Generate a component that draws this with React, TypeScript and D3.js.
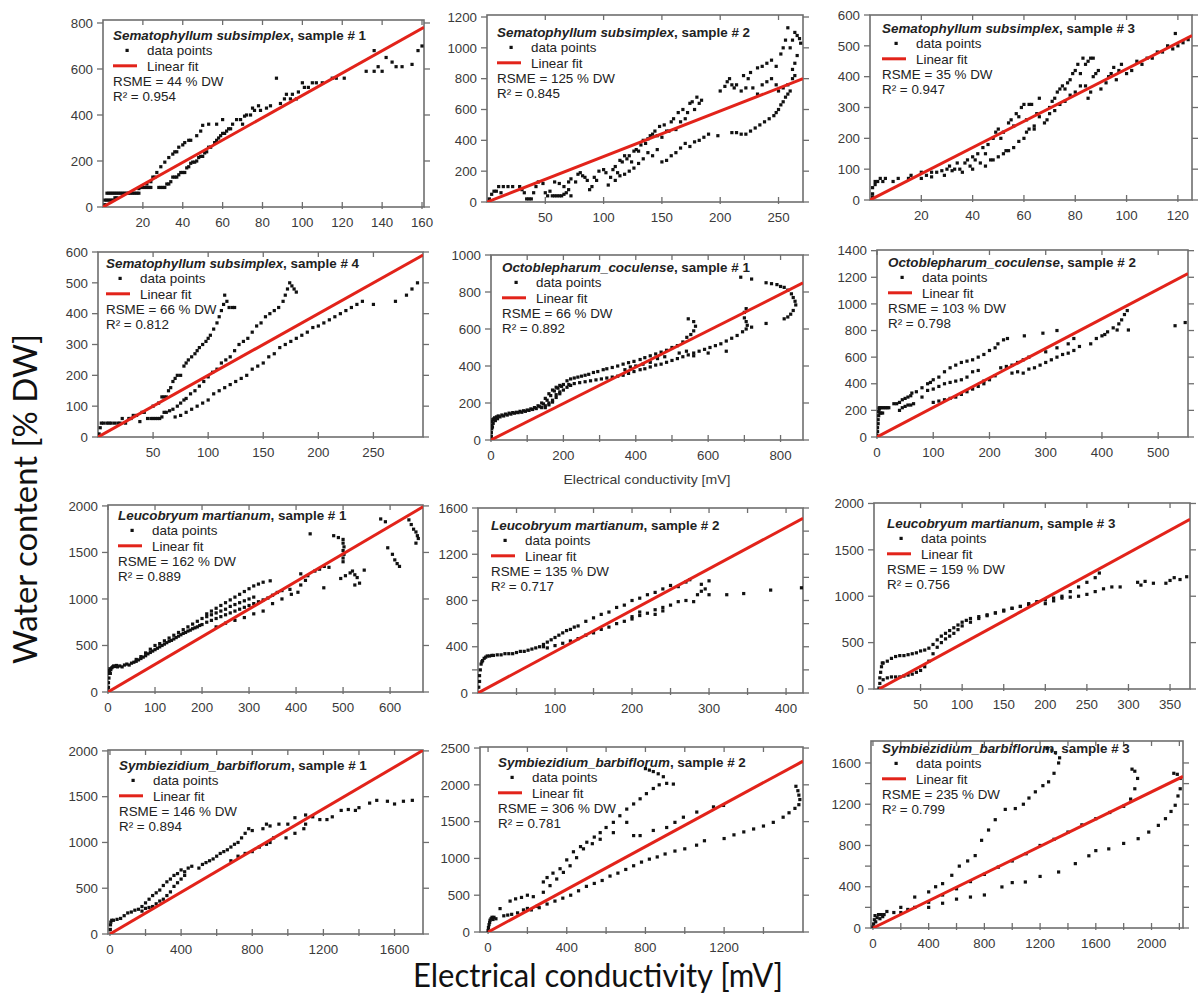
import React from "react";
import * as d3 from "d3";

type Pt = [number, number];

// ---------- DATA ----------
const speciesNames = [
  "Sematophyllum subsimplex", "Sematophyllum subsimplex", "Sematophyllum subsimplex",
  "Sematophyllum subsimplex", "Octoblepharum_coculense", "Octoblepharum_coculense",
  "Leucobryum martianum", "Leucobryum martianum", "Leucobryum martianum",
  "Symbiezidium_barbiflorum", "Symbiezidium_barbiflorum", "Symbiezidium_barbiflorum",
];
const sampleNumbers = [1, 2, 3, 4, 1, 2, 1, 2, 3, 1, 2, 3];
const rsmeValues = [44, 125, 35, 66, 66, 103, 162, 135, 159, 146, 306, 235];
const r2Values = ["0.954", "0.845", "0.947", "0.812", "0.892", "0.798", "0.889", "0.717", "0.756", "0.894", "0.781", "0.799"];
const fitSlopes = [4.85, 2.95, 4.25, 2.0, 0.985, 2.22, 2.97, 3.58, 4.89, 1.14, 1.45, 0.66];
const fitXEnd = [161, 271, 125.5, 295, 862, 553, 670, 422, 374, 1760, 1601, 2226];

const xDomains: Pt[] = [[0, 161], [0, 271], [0, 125.5], [0, 295], [0, 862], [0, 553], [0, 670], [0, 422], [-6, 374], [-11, 1760], [-41, 1601], [-14, 2226]];
const yDomains: Pt[] = [[0, 813], [0, 1213], [0, 600], [0, 600], [0, 1000], [0, 1405], [0, 2010], [0, 1600], [0, 2005], [0, 2010], [0, 2514], [0, 1813]];

const xTickLabels = [
  [20, 40, 60, 80, 100, 120, 140, 160], [50, 100, 150, 200, 250], [20, 40, 60, 80, 100, 120],
  [50, 100, 150, 200, 250], [0, 200, 400, 600, 800], [0, 100, 200, 300, 400, 500],
  [0, 100, 200, 300, 400, 500, 600], [100, 200, 300, 400], [50, 100, 150, 200, 250, 300, 350],
  [0, 400, 800, 1200, 1600], [0, 400, 800, 1200], [0, 400, 800, 1200, 1600, 2000],
];
const xMinorTicks = [
  [], [], [], [], [100, 300, 500, 700], [], [], [50, 150, 250, 350], [],
  [200, 600, 1000, 1400], [200, 600, 1000, 1400], [200, 600, 1000, 1400, 1800, 2200],
];
const yTickLabels = [
  [0, 200, 400, 600, 800], [0, 200, 400, 600, 800, 1000, 1200], [0, 100, 200, 300, 400, 500, 600],
  [0, 100, 200, 300, 400, 500, 600], [0, 200, 400, 600, 800, 1000], [0, 200, 400, 600, 800, 1000, 1200, 1400],
  [0, 500, 1000, 1500, 2000], [0, 400, 800, 1200, 1600], [0, 500, 1000, 1500, 2000],
  [0, 500, 1000, 1500, 2000], [0, 500, 1000, 1500, 2000, 2500], [0, 400, 800, 1200, 1600],
];
const yMinorTicks = [[], [], [], [], [], [], [], [200, 600, 1000, 1400], [], [], [], [200, 600, 1000, 1400]];

const pointsS1: Pt[] = [
  [1, 10], [1, 30], [2, 30], [3, 30], [4, 30], [5, 30], [2, 60], [3, 60], [4, 60], [5, 60], [6, 60], [7, 60], [8, 60], [9, 60],
  [10, 60], [11, 60], [12, 60], [13, 60], [14, 60], [15, 60], [16, 60], [17, 60], [18, 60], [6, 40], [7, 40],
  [18, 80], [19, 85], [20, 85], [21, 85], [22, 85], [23, 85], [24, 85], [22, 100], [24, 110], [25, 130], [26, 130], [27, 150],
  [28, 85], [29, 85], [30, 85], [31, 85], [32, 100], [33, 100], [29, 175], [31, 195], [33, 215], [35, 230], [36, 240], [37, 240],
  [38, 260], [40, 270], [41, 280], [43, 290], [44, 290], [47, 310], [49, 330], [50, 355], [53, 360], [34, 110], [35, 130],
  [36, 130], [37, 130], [38, 140], [39, 150], [40, 150], [41, 150], [42, 170], [43, 175], [44, 190], [45, 195], [46, 195],
  [47, 200], [48, 215], [49, 220], [50, 220], [51, 235], [52, 240], [53, 260], [54, 260], [56, 280], [57, 290], [58, 300],
  [59, 310], [60, 320], [61, 320], [62, 330], [63, 340], [64, 340], [57, 360], [60, 380], [65, 360], [67, 380], [69, 380],
  [70, 360], [71, 395], [72, 400], [74, 400], [75, 430], [76, 420], [78, 440], [79, 420], [82, 430], [84, 440], [87, 560],
  [89, 450], [91, 470], [92, 490], [94, 470], [95, 490], [97, 470], [98, 500], [100, 540], [101, 520], [103, 520], [105, 540],
  [107, 540], [110, 540], [115, 560], [117, 560], [121, 560], [132, 590], [136, 590], [136, 680], [138, 610], [140, 590],
  [142, 650], [145, 630], [147, 610], [150, 610], [155, 620], [158, 680], [160, 700],
];

const pointsS2: Pt[] = [
  [2, 20], [4, 50], [6, 70], [8, 70], [10, 100], [12, 60], [14, 100], [18, 100], [22, 100], [28, 100], [30, 80], [32, 60],
  [34, 20], [36, 20], [38, 20], [40, 60], [42, 100], [44, 130], [48, 120], [50, 60], [52, 40], [54, 70], [56, 40], [58, 40],
  [60, 40], [62, 40], [64, 40], [66, 50], [68, 60], [70, 80], [72, 40], [58, 130], [62, 120], [66, 100], [70, 130], [72, 150],
  [76, 130], [78, 180], [80, 190], [82, 170], [84, 160], [86, 140], [88, 80], [90, 100], [92, 160], [94, 140], [96, 200],
  [100, 210], [102, 190], [104, 110], [106, 160], [108, 210], [110, 230], [112, 190], [114, 270], [116, 260], [118, 300],
  [120, 280], [122, 300], [124, 260], [126, 330], [128, 340], [130, 330], [132, 370], [134, 400], [136, 380], [138, 410],
  [140, 430], [142, 440], [144, 460], [146, 430], [148, 490], [150, 420], [152, 500], [154, 460], [156, 460], [158, 520],
  [160, 540], [162, 470], [164, 580], [166, 520], [168, 600], [170, 540], [172, 580], [174, 640], [176, 650], [178, 600],
  [180, 680], [182, 640], [184, 660], [110, 140], [114, 170], [118, 180], [122, 200], [126, 220], [130, 250], [134, 280],
  [138, 320], [142, 300], [146, 340], [150, 260], [154, 270], [158, 300], [162, 320], [166, 350], [170, 380], [174, 360],
  [178, 390], [182, 400], [186, 420], [190, 440], [198, 430], [200, 720], [204, 750], [208, 800], [210, 760], [214, 760],
  [220, 820], [224, 800], [226, 840], [232, 870], [236, 880], [240, 900], [244, 920], [248, 880], [252, 960], [254, 1000],
  [256, 1050], [258, 1130], [260, 1000], [262, 1050], [264, 1100], [266, 1080], [268, 1060], [269, 1030], [206, 780],
  [212, 740], [218, 720], [222, 740], [228, 740], [232, 700], [236, 760], [240, 780], [244, 800], [248, 760], [250, 720],
  [254, 740], [258, 760], [262, 860], [264, 900], [266, 950], [210, 450], [214, 450], [218, 440], [222, 440], [226, 460],
  [230, 480], [234, 500], [238, 520], [242, 540], [246, 560], [248, 580], [250, 600], [252, 630], [254, 650], [256, 680],
  [258, 700], [260, 720], [262, 800], [264, 820],
];

const pointsS3: Pt[] = [
  [1, 10], [1, 20], [1, 40], [2, 50], [2, 60], [3, 60], [4, 70], [5, 60], [6, 70], [9, 60], [11, 70], [15, 70], [16, 80],
  [20, 70], [20, 90], [22, 80], [24, 90], [24, 75], [26, 90], [28, 95], [29, 80], [30, 100], [31, 110], [32, 95], [33, 100],
  [34, 120], [35, 100], [36, 90], [37, 120], [38, 130], [39, 110], [40, 140], [40, 100], [41, 130], [42, 150], [43, 120],
  [44, 170], [45, 150], [46, 180], [47, 130], [48, 200], [49, 220], [50, 230], [51, 200], [52, 220], [53, 160], [54, 250],
  [55, 260], [56, 240], [57, 280], [58, 270], [59, 300], [60, 310], [61, 260], [62, 310], [63, 310], [64, 230], [65, 280],
  [66, 330], [45, 110], [48, 130], [50, 140], [52, 150], [54, 160], [56, 170], [58, 190], [60, 200], [61, 220], [62, 230],
  [64, 240], [66, 270], [68, 250], [69, 260], [70, 300], [71, 320], [72, 330], [73, 350], [74, 360], [75, 370], [76, 360],
  [77, 380], [78, 390], [79, 410], [80, 420], [81, 440], [82, 410], [83, 460], [84, 440], [85, 450], [86, 460], [87, 460],
  [70, 280], [72, 290], [74, 310], [76, 320], [78, 340], [80, 350], [82, 370], [84, 370], [85, 330], [86, 350], [87, 400],
  [88, 410], [89, 420], [90, 360], [92, 380], [93, 400], [94, 410], [95, 430], [96, 390], [97, 420], [98, 440], [100, 410],
  [102, 420], [104, 450], [106, 440], [108, 460], [110, 460], [112, 480], [114, 480], [116, 500], [118, 490], [119, 540],
  [120, 500], [122, 510], [124, 520],
];

const pointsS4: Pt[] = [
  [1, 10], [2, 30], [3, 45], [5, 45], [8, 45], [10, 45], [12, 45], [15, 45], [18, 45], [20, 45], [22, 60], [25, 45], [28, 60],
  [30, 60], [32, 70], [35, 70], [38, 50], [40, 80], [42, 80], [45, 60], [48, 60], [50, 60], [52, 60], [54, 60], [56, 60],
  [58, 65], [60, 80], [50, 100], [55, 110], [58, 130], [60, 130], [62, 130], [64, 150], [66, 160], [68, 180], [70, 190],
  [72, 200], [75, 200], [78, 230], [80, 240], [82, 250], [85, 260], [88, 270], [90, 280], [92, 290], [95, 300], [98, 310],
  [100, 320], [102, 330], [105, 350], [108, 370], [110, 390], [112, 410], [114, 430], [115, 460], [117, 440], [119, 420],
  [122, 420], [124, 420], [62, 80], [65, 85], [68, 90], [72, 100], [75, 110], [78, 120], [80, 125], [84, 140], [88, 150],
  [92, 165], [96, 180], [100, 195], [104, 210], [108, 220], [112, 240], [116, 250], [120, 260], [124, 280], [128, 300],
  [132, 310], [136, 320], [140, 340], [144, 360], [148, 370], [152, 390], [156, 400], [160, 410], [164, 420], [168, 440],
  [170, 460], [172, 480], [174, 500], [176, 490], [178, 480], [180, 470], [70, 65], [75, 70], [80, 80], [85, 90], [90, 100],
  [95, 110], [100, 120], [105, 140], [110, 150], [115, 160], [120, 170], [125, 180], [130, 190], [135, 200], [140, 220],
  [145, 230], [150, 240], [155, 260], [160, 270], [165, 290], [170, 300], [175, 310], [180, 320], [185, 330], [190, 340],
  [195, 355], [200, 360], [205, 370], [210, 380], [215, 390], [220, 400], [225, 410], [230, 420], [235, 430], [240, 440],
  [250, 430], [270, 440], [280, 460], [285, 480], [290, 500],
];

const pointsO1: Pt[] = [
  [0, 5], [1, 20], [1, 40], [2, 60], [2, 80], [3, 100], [4, 70], [5, 110], [6, 90], [8, 115], [10, 120], [12, 105], [15, 125],
  [18, 115], [20, 130], [25, 125], [30, 135], [35, 130], [40, 140], [45, 135], [50, 145], [55, 140], [60, 148], [65, 145],
  [70, 150], [75, 148], [80, 155], [85, 150], [90, 158], [95, 155], [100, 162], [105, 160], [110, 168], [115, 165], [120, 175],
  [125, 170], [130, 185], [135, 180], [140, 200], [145, 195], [150, 225], [155, 215], [160, 250], [165, 240], [170, 270],
  [175, 265], [180, 285], [185, 280], [190, 295], [195, 290], [200, 300], [140, 175], [150, 185], [160, 200], [170, 215],
  [180, 230], [190, 250], [200, 270], [210, 285], [220, 295], [150, 175], [160, 190], [170, 205], [180, 245], [190, 260],
  [210, 320], [220, 330], [230, 335], [240, 340], [250, 345], [260, 350], [270, 355], [283, 365], [295, 370], [310, 380],
  [320, 385], [335, 392], [350, 400], [365, 410], [380, 418], [395, 425], [412, 435], [425, 445], [440, 455], [455, 465],
  [470, 475], [485, 485], [500, 500], [515, 510], [530, 530], [541, 555], [552, 570], [560, 590], [565, 615], [560, 640],
  [545, 655], [215, 300], [230, 305], [245, 310], [260, 315], [275, 320], [290, 325], [305, 330], [320, 335], [335, 340],
  [350, 345], [365, 350], [380, 360], [395, 370], [412, 380], [425, 385], [440, 395], [455, 405], [470, 410], [485, 420],
  [500, 430], [515, 440], [530, 450], [545, 460], [560, 470], [575, 480], [590, 490], [605, 500], [620, 510], [635, 520],
  [650, 535], [665, 550], [680, 565], [695, 585], [705, 600], [708, 620], [705, 640], [700, 660], [700, 690], [705, 710],
  [370, 380], [385, 395], [400, 400], [420, 410], [440, 420], [460, 440], [480, 450], [520, 470], [540, 480], [560, 455],
  [600, 470], [650, 480], [720, 610], [760, 630], [690, 880], [720, 870], [760, 850], [775, 845], [790, 840], [800, 830],
  [810, 825], [820, 810], [830, 790], [835, 770], [840, 750], [842, 730], [835, 700], [828, 680], [820, 665], [810, 655],
];

const pointsO2: Pt[] = [
  [0, 10], [1, 40], [1, 70], [2, 100], [2, 130], [3, 160], [3, 190], [4, 210], [4, 220], [5, 180], [7, 180], [10, 180],
  [6, 220], [9, 220], [12, 220], [15, 220], [18, 220], [21, 220], [30, 250], [35, 250], [40, 260], [45, 280], [50, 290],
  [55, 300], [60, 310], [62, 330], [40, 200], [45, 220], [50, 230], [55, 240], [60, 240], [65, 250], [70, 340], [80, 370],
  [90, 400], [95, 410], [100, 430], [110, 450], [120, 490], [130, 520], [140, 540], [150, 560], [160, 570], [170, 580],
  [180, 600], [190, 620], [200, 650], [210, 670], [215, 700], [225, 730], [232, 740], [262, 760], [295, 780], [320, 800],
  [80, 300], [90, 350], [100, 360], [110, 380], [120, 400], [130, 410], [140, 420], [150, 430], [160, 450], [170, 490],
  [180, 500], [190, 420], [200, 430], [210, 460], [220, 520], [230, 530], [240, 540], [250, 560], [260, 580], [270, 600],
  [100, 260], [110, 270], [120, 280], [130, 290], [140, 300], [150, 320], [160, 340], [170, 360], [180, 380], [190, 400],
  [240, 480], [250, 490], [260, 480], [270, 510], [280, 520], [290, 540], [300, 560], [310, 580], [320, 600], [330, 620],
  [340, 630], [350, 650], [360, 680], [300, 640], [320, 670], [340, 700], [350, 740], [380, 700], [390, 740], [400, 760],
  [405, 770], [410, 790], [420, 820], [430, 850], [435, 880], [440, 920], [445, 950], [427, 804], [447, 804], [530, 836],
  [548, 860],
];

const pointsL1: Pt[] = [
  [0, 10], [1, 50], [1, 100], [2, 150], [2, 200], [3, 230], [4, 250], [5, 200], [6, 240], [8, 260], [10, 270], [12, 280],
  [15, 275], [18, 285], [20, 270], [25, 280], [30, 270], [35, 290], [40, 300], [45, 290], [50, 310], [55, 320], [60, 330],
  [65, 345], [70, 360], [75, 375], [80, 390], [85, 410], [90, 425], [95, 440], [100, 455], [105, 470], [110, 485], [115, 500],
  [120, 515], [125, 530], [130, 545], [135, 555], [140, 570], [145, 585], [150, 600], [155, 615], [160, 630], [165, 640],
  [170, 655], [175, 665], [180, 680], [185, 690], [190, 700], [195, 715], [200, 725], [60, 350], [70, 380], [80, 420],
  [90, 460], [100, 500], [110, 520], [120, 550], [130, 580], [140, 610], [150, 640], [160, 670], [170, 700], [180, 730],
  [190, 760], [200, 790], [210, 810], [220, 830], [230, 850], [240, 870], [250, 890], [260, 920], [270, 940], [280, 960],
  [290, 980], [300, 1000], [310, 1020], [210, 840], [220, 870], [230, 900], [240, 930], [250, 960], [260, 990], [270, 1020],
  [280, 1050], [290, 1080], [300, 1110], [310, 1140], [320, 1160], [330, 1180], [345, 1195], [210, 750], [220, 770],
  [230, 790], [240, 810], [250, 830], [260, 850], [270, 870], [280, 890], [290, 910], [300, 930], [310, 950], [320, 970],
  [330, 990], [340, 1010], [350, 1040], [360, 1070], [370, 1090], [387, 1103], [230, 700], [250, 740], [270, 770], [290, 800],
  [310, 840], [330, 870], [350, 950], [370, 1000], [390, 1050], [404, 1072], [410, 1150], [420, 1200], [410, 1270],
  [425, 1250], [440, 1300], [450, 1320], [460, 1350], [470, 1340], [459, 1120], [430, 1700], [480, 1680], [490, 1660],
  [500, 1640], [500, 1600], [502, 1560], [500, 1520], [502, 1480], [500, 1440], [500, 1400], [495, 1220], [505, 1250],
  [515, 1280], [520, 1300], [525, 1260], [530, 1230], [525, 1150], [535, 1170], [545, 1310], [580, 1860], [590, 1830],
  [595, 1550], [605, 1480], [610, 1420], [615, 1380], [620, 1350], [640, 1850], [645, 1800], [650, 1750], [655, 1720],
  [658, 1680], [660, 1650], [655, 1600],
];

const pointsL2: Pt[] = [
  [1, 0], [1, 50], [2, 100], [2, 150], [3, 200], [4, 250], [5, 270], [6, 280], [8, 300], [10, 310], [12, 320], [15, 320],
  [18, 325], [20, 325], [25, 330], [30, 330], [35, 340], [40, 340], [45, 340], [50, 350], [55, 360], [60, 360], [65, 370],
  [70, 380], [75, 390], [80, 400], [85, 400], [85, 420], [90, 440], [95, 460], [100, 480], [105, 500], [110, 520], [115, 540],
  [120, 550], [125, 570], [130, 580], [140, 620], [150, 650], [160, 680], [170, 700], [180, 740], [190, 760], [200, 800],
  [210, 820], [220, 850], [230, 870], [240, 900], [250, 930], [260, 920], [270, 960], [275, 980], [90, 390], [100, 410],
  [110, 430], [120, 450], [130, 470], [140, 500], [150, 520], [160, 550], [170, 570], [180, 600], [190, 620], [200, 640],
  [210, 670], [220, 690], [230, 720], [240, 740], [250, 760], [260, 790], [270, 800], [280, 790], [285, 850], [290, 880],
  [295, 900], [300, 850], [300, 970], [290, 940], [323, 850], [345, 860], [380, 890], [420, 910], [200, 660], [210, 700],
  [230, 680], [240, 710],
];

const pointsL3: Pt[] = [
  [0, 10], [1, 60], [1, 120], [2, 180], [3, 240], [4, 280], [5, 280], [10, 300], [15, 330], [20, 350], [25, 360], [30, 360],
  [35, 370], [40, 380], [45, 390], [50, 410], [55, 420], [60, 440], [65, 480], [70, 530], [75, 570], [80, 600], [85, 630],
  [90, 660], [95, 690], [100, 720], [105, 740], [110, 760], [120, 780], [130, 800], [140, 820], [150, 850], [160, 870],
  [170, 890], [180, 920], [190, 940], [200, 960], [210, 980], [220, 1000], [230, 1050], [240, 1100], [250, 1150], [260, 1200],
  [265, 1250], [5, 100], [10, 120], [15, 130], [20, 130], [25, 130], [30, 140], [35, 150], [40, 160], [45, 180], [50, 200],
  [55, 240], [60, 300], [65, 380], [70, 450], [75, 500], [80, 540], [85, 570], [90, 600], [95, 640], [100, 680], [110, 720],
  [120, 760], [130, 790], [140, 820], [150, 840], [160, 870], [170, 890], [180, 910], [190, 940], [200, 920], [210, 950],
  [220, 980], [230, 990], [240, 1000], [250, 1020], [260, 1050], [270, 1080], [280, 1100], [290, 1100], [311, 1150],
  [315, 1120], [320, 1160], [330, 1140], [345, 1140], [350, 1170], [355, 1200], [362, 1180], [370, 1210],
];

const pointsB1: Pt[] = [
  [2, 50], [3, 100], [5, 130], [10, 150], [20, 150], [40, 160], [60, 170], [80, 200], [100, 230], [120, 240], [140, 260],
  [160, 270], [180, 300], [200, 340], [220, 380], [240, 420], [260, 450], [280, 480], [300, 530], [320, 570], [340, 600],
  [360, 640], [380, 660], [400, 700], [420, 680], [440, 720], [460, 740], [180, 250], [200, 280], [220, 290], [240, 300],
  [260, 330], [280, 360], [300, 380], [320, 420], [340, 460], [360, 520], [380, 560], [400, 600], [420, 640], [500, 720],
  [520, 760], [540, 780], [560, 800], [580, 820], [600, 850], [620, 880], [640, 900], [660, 920], [680, 950], [700, 980],
  [720, 1000], [740, 1050], [760, 1100], [780, 1150], [800, 1130], [860, 1150], [880, 1200], [900, 1180], [950, 1200],
  [1000, 1200], [1040, 1270], [1100, 1300], [1140, 1280], [1180, 1250], [1220, 1250], [1250, 1280], [1300, 1350],
  [1340, 1360], [1380, 1350], [1400, 1380], [1460, 1430], [1500, 1460], [1560, 1450], [1600, 1420], [1650, 1450],
  [1700, 1460], [680, 800], [720, 850], [760, 880], [800, 900], [840, 950], [880, 980], [900, 1000], [920, 1050],
  [990, 1050], [1040, 1100], [1090, 1150], [1100, 1200],
];

const pointsB2: Pt[] = [
  [0, 20], [2, 60], [5, 100], [8, 130], [10, 160], [15, 180], [20, 200], [25, 170], [30, 200], [40, 180], [61, 318],
  [80, 220], [100, 230], [112, 420], [140, 450], [170, 470], [200, 500], [230, 480], [120, 240], [150, 260], [180, 300],
  [200, 320], [250, 350], [281, 680], [300, 740], [330, 800], [366, 860], [400, 980], [434, 1090], [470, 1160], [502, 1220],
  [540, 1290], [570, 1350], [600, 1420], [637, 1490], [670, 1580], [705, 1670], [740, 1740], [773, 1810], [805, 1880],
  [840, 1950], [870, 2000], [908, 2020], [942, 2010], [800, 2220], [820, 2200], [840, 2180], [865, 2150], [891, 2110],
  [281, 540], [315, 630], [349, 720], [383, 810], [417, 900], [450, 1010], [485, 1130], [530, 1200], [570, 1260],
  [637, 1350], [705, 1490], [740, 1310], [773, 1310], [840, 1380], [908, 1420], [950, 1490], [993, 1560], [1061, 1630],
  [1146, 1700], [1197, 1720], [220, 300], [260, 330], [300, 380], [340, 420], [380, 460], [420, 500], [460, 560], [500, 620],
  [540, 660], [580, 700], [620, 760], [660, 800], [700, 850], [740, 900], [780, 950], [820, 990], [860, 1020], [900, 1060],
  [950, 1100], [1000, 1130], [1060, 1180], [1100, 1240], [1200, 1270], [1250, 1320], [1300, 1360], [1350, 1400],
  [1400, 1440], [1450, 1490], [1500, 1560], [1530, 1620], [1560, 1680], [1580, 1730], [1585, 1800], [1580, 1860],
  [1575, 1920], [1565, 1980],
];

const pointsB3: Pt[] = [
  [0, 10], [5, 40], [10, 80], [15, 120], [20, 60], [30, 100], [40, 130], [50, 90], [60, 130], [70, 110], [80, 130],
  [100, 160], [150, 150], [200, 200], [250, 180], [300, 300], [400, 350], [450, 400], [500, 430], [566, 511], [620, 600],
  [680, 650], [734, 702], [780, 850], [830, 950], [878, 1050], [950, 1150], [1022, 1158], [1080, 1200], [1120, 1260],
  [1166, 1320], [1220, 1380], [1261, 1417], [1300, 1500], [1333, 1600], [1340, 1650], [1310, 1700], [1285, 1724],
  [1250, 1740], [200, 150], [300, 200], [400, 250], [500, 320], [600, 380], [700, 450], [800, 520], [900, 590], [1000, 650],
  [1100, 720], [1200, 800], [1300, 860], [1400, 930], [1500, 1000], [1600, 1060], [1700, 1120], [1800, 1180], [1850, 1250],
  [1880, 1350], [1900, 1450], [1880, 1520], [1860, 1540], [400, 200], [500, 240], [600, 280], [700, 300], [800, 320],
  [926, 398], [1000, 440], [1094, 446], [1200, 500], [1333, 543], [1453, 624], [1550, 700], [1600, 750], [1693, 767],
  [1800, 820], [1904, 866], [1980, 930], [2049, 995], [2100, 1060], [2140, 1130], [2170, 1190], [2190, 1280], [2206, 1350],
  [2206, 1450], [2185, 1490], [2160, 1500],
];

const panelPoints: Pt[][] = [
  pointsS1, pointsS2, pointsS3, pointsS4, pointsO1, pointsO2, pointsL1, pointsL2, pointsL3, pointsB1, pointsB2, pointsB3,
];

// ---------- LAYOUT (pixel frames & legend offsets) ----------
const frames = [
  [103, 20, 424, 207], [487, 15, 803, 202], [870, 15, 1192, 200],
  [98, 252, 423, 437], [491, 255, 803, 440], [877, 250, 1188, 437],
  [108, 505, 423, 692], [478, 508, 803, 693], [874, 503, 1190, 689],
  [108, 750, 423, 934], [480, 747, 803, 932], [871, 741, 1183, 928],
];
const legendOffsets = [
  [10, 15], [10, 17], [12, 13], [8, 11], [11, 12], [11, 12],
  [10, 10], [13, 17], [13, 20], [11, 15], [18, 15], [11, 7],
];

const RED = "#e2231a";
const FRAME = "#6e6e6e";
const TXT = "#3a3a3a";
const FONT = "'Liberation Sans', Arial, sans-serif";

function Panel({ i }: { i: number }) {
  const [l, t, r, b] = frames[i];
  const x = d3.scaleLinear().domain(xDomains[i]).range([l, r]);
  const y = d3.scaleLinear().domain(yDomains[i]).range([b, t]);
  const [lx, ly] = legendOffsets[i];
  const x0 = Math.max(0, xDomains[i][0]);
  const lineGen = d3.line<Pt>().x((d) => x(d[0])).y((d) => y(d[1]));
  const fitPts: Pt[] = [[x0, fitSlopes[i] * x0], [fitXEnd[i], fitSlopes[i] * fitXEnd[i]]];
  const clipId = `clip${i}`;
  const tx = l + lx;
  const ty = t + ly;
  const lh = 15.4;
  return (
    <g>
      <defs>
        <clipPath id={clipId}>
          <rect x={l} y={t} width={r - l} height={b - t} />
        </clipPath>
      </defs>
      <rect x={l} y={t} width={r - l} height={b - t} fill="white" stroke={FRAME} strokeWidth={1.6} />
      {[...xTickLabels[i], ...xMinorTicks[i]].map((v, k) => (
        <g key={`xt${k}`}>
          <line x1={x(v)} x2={x(v)} y1={b + 2} y2={b - 5} stroke={FRAME} strokeWidth={1.3} />
          <line x1={x(v)} x2={x(v)} y1={t} y2={t + 5} stroke={FRAME} strokeWidth={1.3} />
        </g>
      ))}
      {xTickLabels[i].map((v, k) => (
        <text key={`xl${k}`} x={x(v)} y={b + 20} textAnchor="middle" fontSize={13.3} fill={TXT} fontFamily={FONT}>
          {v}
        </text>
      ))}
      {[...yTickLabels[i], ...yMinorTicks[i]].map((v, k) => (
        <g key={`yt${k}`}>
          <line x1={l - 6} x2={l} y1={y(v)} y2={y(v)} stroke={FRAME} strokeWidth={1.3} />
          <line x1={r} x2={r + 6} y1={y(v)} y2={y(v)} stroke={FRAME} strokeWidth={1.3} />
        </g>
      ))}
      {yTickLabels[i].map((v, k) => (
        <text key={`yl${k}`} x={l - 10} y={y(v) + 4.7} textAnchor="end" fontSize={13.3} fill={TXT} fontFamily={FONT}>
          {v}
        </text>
      ))}
      <g clipPath={`url(#${clipId})`}>
        {panelPoints[i].map((p, k) => (
          <rect key={k} x={x(p[0]) - 1.6} y={y(p[1]) - 1.6} width={3.2} height={3.2} fill="#111" />
        ))}
        <path d={lineGen(fitPts) || ""} stroke={RED} strokeWidth={3} fill="none" />
      </g>
      <g fontFamily={FONT} fontSize={13.4} fill="#222">
        <text x={tx} y={ty + 4.8} fontWeight="bold">
          <tspan fontStyle="italic">{speciesNames[i]}</tspan>
          <tspan>{`, sample # ${sampleNumbers[i]}`}</tspan>
        </text>
        <rect x={tx + 12.5} y={ty + lh - 1.6} width={3.2} height={3.2} fill="#111" />
        <text x={tx + 34} y={ty + lh + 4.8}>data points</text>
        <line x1={tx} x2={tx + 24} y1={ty + 2 * lh} y2={ty + 2 * lh} stroke={RED} strokeWidth={3} />
        <text x={tx + 34} y={ty + 2 * lh + 4.8}>Linear fit</text>
        <text x={tx} y={ty + 3 * lh + 4.8}>{`RSME = ${rsmeValues[i]} % DW`}</text>
        <text x={tx} y={ty + 4 * lh + 4.8}>{`R² = ${r2Values[i]}`}</text>
      </g>
    </g>
  );
}

export default function App() {
  return (
    <svg
      width={1198}
      height={1000}
      style={{ display: "block", position: "absolute", left: 0, top: 0, background: "white" }}
    >
      <rect x={0} y={0} width={1198} height={1000} fill="white" />
      {frames.map((_, i) => (
        <Panel key={i} i={i} />
      ))}
      <text
        x={647}
        y={484}
        textAnchor="middle"
        fontSize={13.5}
        fill={TXT}
        fontFamily={FONT}
        textLength={167}
        lengthAdjust="spacingAndGlyphs"
      >
        Electrical conductivity [mV]
      </text>
      <text
        transform="translate(37,499) rotate(-90)"
        textAnchor="middle"
        fontSize={32}
        fill="#111"
        fontFamily="Lato, 'Open Sans', sans-serif"
        textLength={330}
        lengthAdjust="spacingAndGlyphs"
      >
        Water content [% DW]
      </text>
      <text
        x={598}
        y={987}
        textAnchor="middle"
        fontSize={32}
        fill="#111"
        fontFamily="Lato, 'Open Sans', sans-serif"
        textLength={370}
        lengthAdjust="spacingAndGlyphs"
      >
        Electrical conductivity [mV]
      </text>
    </svg>
  );
}
